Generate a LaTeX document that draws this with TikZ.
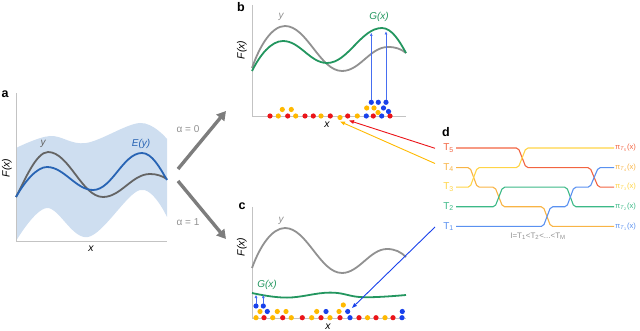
\documentclass[tikz,border=0pt]{standalone}
\usepackage{fontspec}
\setmainfont{Liberation Sans}
\usetikzlibrary{arrows.meta}
\definecolor{bandc}{RGB}{206,222,240}
\definecolor{graya}{RGB}{100,100,100}
\definecolor{grayb}{RGB}{145,145,145}
\definecolor{eblue}{RGB}{40,100,180}
\definecolor{ggreen}{RGB}{35,150,95}
\definecolor{axc}{RGB}{195,195,195}
\definecolor{dred}{RGB}{235,20,25}
\definecolor{dyel}{RGB}{255,185,0}
\definecolor{dblue}{RGB}{25,65,235}
\definecolor{arrowblue}{RGB}{70,110,240}
\definecolor{bigarrow}{RGB}{125,125,125}
\definecolor{t5c}{RGB}{242,100,65}
\definecolor{t4c}{RGB}{248,180,70}
\definecolor{t3c}{RGB}{255,212,70}
\definecolor{t2c}{RGB}{60,185,135}
\definecolor{t1c}{RGB}{90,145,240}
\newcommand\pilab[1]{π\textsubscript{\textit{T}\textsubscript{#1}}(x)}
\newcommand\dotrow[3]{\foreach \xx in {#2} {\fill[#1] (\xx,#3) circle[radius=2.6pt];}}
\begin{document}
\begin{tikzpicture}[x=1pt,y=-1pt,
  axis/.style={draw=axc,line width=0.9pt},
  curvegray/.style={draw=graya,line width=1.8pt},
  curvegrayb/.style={draw=grayb,line width=1.8pt},
  curveblue/.style={draw=eblue,line width=1.8pt},
  curvegreen/.style={draw=ggreen,line width=1.8pt},
  panel/.style={font=\fontsize{12.5}{14}\selectfont\bfseries,inner sep=0pt},
  axlab/.style={font=\fontsize{10.5}{12}\selectfont\itshape,inner sep=0pt},
  curvelab/.style={font=\fontsize{10}{12}\selectfont\itshape,inner sep=0pt},
  alphalab/.style={font=\fontsize{10}{12}\selectfont,text=grayb,inner sep=0pt},
  bigarr/.style={draw=bigarrow,line width=3.4pt,-{Triangle[length=9pt,width=10pt]}},
  smallarr/.style={draw=arrowblue,line width=0.7pt,-{Triangle[length=3pt,width=2.6pt]}},
  linkarr/.style={line width=0.9pt,-{Triangle[length=5pt,width=3.6pt]}},
  level/.style={line width=1.1pt,rounded corners=2pt},
  tlab/.style={font=\fontsize{10}{12}\selectfont,inner sep=0pt,anchor=east},
  plab/.style={font=\fontsize{7.6}{9}\selectfont,inner sep=0pt,anchor=west}]
\useasboundingbox (0,0) rectangle (640,331);

% ---------- panel a ----------
\fill[bandc] plot[smooth,tension=0.6] coordinates {(16,148) (50,136) (86,143) (140,123) (167,139)}
  -- plot[smooth,tension=0.6] coordinates {(167,217) (140,190) (88,237) (47,208) (16,241)} -- cycle;
\draw[axis] (16,93) -- (16,241) -- (167,241);
\draw[curvegray] (16,197) .. controls (24,182) and (36,152) .. (48,152)
  .. controls (69,152) and (82,197) .. (103,197)
  .. controls (121,197) and (132,174) .. (150,174)
  .. controls (157,174) and (162,176) .. (167,179);
\draw[curveblue] (16,197) .. controls (25,181) and (37,167) .. (47,167)
  .. controls (64,167) and (76,190) .. (93,190)
  .. controls (112,190) and (123,153) .. (142,153)
  .. controls (152,153) and (160,168) .. (167,180);
\node[panel] (la) at (5,94) {a};
\node[axlab,rotate=90] (fa) at (7,168) {F(x)};
\node[axlab] (xa) at (91,249) {x};
\node[curvelab,text=graya] (ya) at (43,144) {y};
\node[curvelab,text=eblue] (ea) at (141,144) {E(y)};

% ---------- arrows a -> b, c ----------
\coordinate (asrc1) at (178,169);
\coordinate (atgt1) at (226,111);
\coordinate (asrc2) at (178,181);
\coordinate (atgt2) at (226,239);
\draw[bigarr] (asrc1) -- (atgt1);
\draw[bigarr] (asrc2) -- (atgt2);
\node[alphalab] (al0) at (188,129) {α = 0};
\node[alphalab] (al1) at (188,222) {α = 1};

% ---------- panel b ----------
\draw[axis] (252,5) -- (252,116) -- (406,116);
\draw[curvegrayb] (252,68) .. controls (260,45) and (272,26) .. (285,26)
  .. controls (307,26) and (320,71) .. (342,71)
  .. controls (360,71) and (370,47) .. (388,47)
  .. controls (396,47) and (401,49) .. (406,53);
\draw[curvegreen] (252,71) .. controls (260,55) and (271,41) .. (283,41)
  .. controls (300,41) and (310,63) .. (327,63)
  .. controls (348,63) and (361,28) .. (382,28)
  .. controls (392,28) and (400,42) .. (406,53);
\node[panel] (lb) at (241,7) {b};
\node[axlab,rotate=90] (fb) at (242,50) {F(x)};
\node[axlab] (xb) at (327,125) {x};
\node[curvelab,text=grayb] (yb) at (281,17) {y};
\node[curvelab,text=ggreen] (gb) at (379,17) {G(x)};
\dotrow{dred}{270,287.7,305,313.3,330.3,347.7,373.3,390}{116}
\dotrow{dyel}{278.3,295.7,321,357.3}{116}
\fill[dyel] (340,117.5) circle[radius=2.6pt];
\dotrow{dblue}{366.3,381.7}{116}
\dotrow{dyel}{282.3,291.3}{109.5}
\dotrow{dyel}{366.7,374}{108}
\fill[dyel] (378,112.5) circle[radius=2.6pt];
\fill[dblue] (383.5,108) circle[radius=2.6pt];
\fill[dblue] (388.5,111.5) circle[radius=2.6pt];
\dotrow{dblue}{371.3,378.3,386}{102.3}
\coordinate (bd1) at (371.3,100);
\coordinate (bg1) at (371.3,33);
\coordinate (bd2) at (386,100);
\coordinate (bg2) at (386,31.5);
\draw[smallarr] (bd1) -- (bg1);
\draw[smallarr] (bd2) -- (bg2);

% ---------- panel c ----------
\draw[axis] (252,207) -- (252,318) -- (406,318);
\draw[curvegrayb] (252,268) .. controls (260,246) and (272,228) .. (285,228)
  .. controls (307,228) and (320,273) .. (342,273)
  .. controls (359,273) and (370,249) .. (387,249)
  .. controls (395,249) and (401,252) .. (406,257);
\draw[curvegreen] plot[smooth,tension=0.7] coordinates {(252,293) (287,297.6) (330,292.6) (363,297.2) (406,295)};
\node[panel] (lc) at (242,206) {c};
\node[axlab,rotate=90] (fc) at (242,247) {F(x)};
\node[axlab] (xc) at (328,327) {x};
\node[curvelab,text=grayb] (yc) at (281,221) {y};
\node[curvelab,text=ggreen] (gc) at (267,285) {G(x)};
\dotrow{dred}{264,282.7,302.3,321,340,359,376,393}{317.7}
\dotrow{dyel}{256,272.7,291.3,311.7,330,367.5,385}{317.7}
\dotrow{dblue}{350,402}{317.7}
\dotrow{dyel}{260,277.3,286,316.7,339}{311.5}
\dotrow{dblue}{267.3,326,347.7,402.3}{311.5}
\dotrow{dblue}{256,263.3}{306}
\fill[dyel] (343.3,305) circle[radius=2.6pt];
\coordinate (cd1) at (256,303.5);
\coordinate (cg1) at (256,295);
\coordinate (cd2) at (263.3,303.5);
\coordinate (cg2) at (263.3,295);
\draw[smallarr] (cd1) -- (cg1);
\draw[smallarr] (cd2) -- (cg2);

% ---------- panel d ----------
\node[panel] (ld) at (446,132) {d};
\node[tlab,text=t5c] (T5) at (454,148) {T\textsubscript{5}};
\node[tlab,text=t4c] (T4) at (454,167.6) {T\textsubscript{4}};
\node[tlab,text=t3c] (T3) at (454,187.2) {T\textsubscript{3}};
\node[tlab,text=t2c] (T2) at (454,206.8) {T\textsubscript{2}};
\node[tlab,text=t1c] (T1) at (454,226.4) {T\textsubscript{1}};
\draw[level,draw=t5c] (456,148) -- (518.3,148) -- (526,167.6) -- (590,167.6) -- (598.3,187.2) -- (614,187.2);
\draw[level,draw=t4c] (456,167.6) -- (470,167.6) -- (477.3,187.2) -- (495,187.2) -- (502.7,206.8) -- (543.3,206.8) -- (550.7,226.4) -- (614,226.4);
\draw[level,draw=t3c] (456,187.2) -- (470,187.2) -- (477.3,167.6) -- (518.3,167.6) -- (526,148) -- (614,148);
\draw[level,draw=t2c] (456,206.8) -- (495,206.8) -- (502.7,187.2) -- (566.7,187.2) -- (574,206.8) -- (614,206.8);
\draw[level,draw=t1c] (456,226.4) -- (543.3,226.4) -- (550.7,206.8) -- (566.7,206.8) -- (574,187.2) -- (590,187.2) -- (598.3,167.6) -- (614,167.6);
\node[plab,text=t5c] (P5) at (615,148) {\pilab{5}};
\node[plab,text=t4c] (P4) at (615,167.6) {\pilab{4}};
\node[plab,text=t3c] (P3) at (615,187.2) {\pilab{3}};
\node[plab,text=t2c] (P2) at (615,206.8) {\pilab{2}};
\node[plab,text=t1c] (P1) at (615,226.4) {\pilab{1}};
\node[font=\fontsize{8}{9}\selectfont,text=grayb,inner sep=0pt] (ord) at (538,236) {I=T\textsubscript{1}<T\textsubscript{2}<...<T\textsubscript{M}};

% ---------- links d -> b, c ----------
\coordinate (s5) at (435,148.3);
\coordinate (s4) at (435,163.5);
\coordinate (s1) at (435,227);
\coordinate (tb5) at (349,120.5);
\coordinate (tb4) at (340,121.5);
\coordinate (tc1) at (352,308);
\draw[linkarr,draw=dred] (s5) -- (tb5);
\draw[linkarr,draw=dyel] (s4) -- (tb4);
\draw[linkarr,draw=dblue] (s1) -- (tc1);
\end{tikzpicture}
\end{document}
